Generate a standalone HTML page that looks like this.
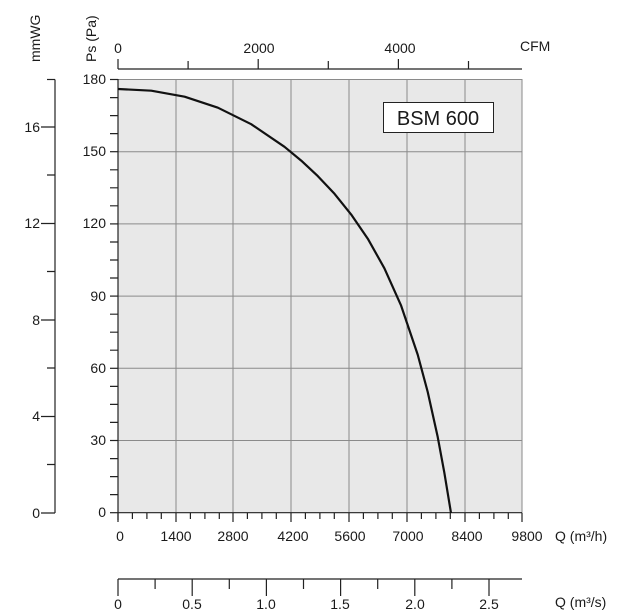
<!DOCTYPE html>
<html><head><meta charset="utf-8"><style>
html,body{margin:0;padding:0;background:#fff;}
svg{display:block;font-family:"Liberation Sans",Arial,sans-serif;}
text{fill:#1a1a1a;font-size:14px;}
</style></head><body>
<svg width="634" height="613" viewBox="0 0 634 613" xmlns="http://www.w3.org/2000/svg">
<rect x="118" y="79" width="404" height="434" fill="#e8e8e8"/>
<g stroke="#8a8a8a" stroke-width="1">
<line x1="176" y1="79" x2="176" y2="513"/><line x1="233" y1="79" x2="233" y2="513"/>
<line x1="291" y1="79" x2="291" y2="513"/><line x1="349" y1="79" x2="349" y2="513"/>
<line x1="407" y1="79" x2="407" y2="513"/><line x1="465" y1="79" x2="465" y2="513"/>
<line x1="522" y1="79" x2="522" y2="513"/>
<line x1="118" y1="151.7" x2="522" y2="151.7"/><line x1="118" y1="223.9" x2="522" y2="223.9"/>
<line x1="118" y1="296.1" x2="522" y2="296.1"/><line x1="118" y1="368.3" x2="522" y2="368.3"/>
<line x1="118" y1="440.5" x2="522" y2="440.5"/><line x1="118" y1="79.5" x2="522" y2="79.5"/>
</g>
<g stroke="#222" stroke-width="1.2" fill="none">
<line x1="118" y1="79" x2="118" y2="520"/>
<line x1="110" y1="79.5" x2="118" y2="79.5"/><line x1="110" y1="151.7" x2="118" y2="151.7"/>
<line x1="110" y1="223.9" x2="118" y2="223.9"/><line x1="110" y1="296.1" x2="118" y2="296.1"/>
<line x1="110" y1="368.3" x2="118" y2="368.3"/><line x1="110" y1="440.5" x2="118" y2="440.5"/>
<line x1="110" y1="512.7" x2="118" y2="512.7"/>
<path d="M110 97.6h8M110 115.6h8M110 133.6h8M110 169.8h8M110 187.8h8M110 205.8h8M110 242h8M110 260h8M110 278h8M110 314.2h8M110 332.2h8M110 350.2h8M110 386.4h8M110 404.4h8M110 422.4h8M110 458.6h8M110 476.6h8M110 494.6h8"/>
<line x1="118" y1="512.7" x2="522" y2="512.7"/>
<path d="M118 513v9M176 513v9M233 513v9M291 513v9M349 513v9M407 513v9M465 513v9M522 513v9"/>
<path d="M132.4 513v6M146.9 513v6M161.3 513v6M190.4 513v6M204.9 513v6M219.3 513v6M247.4 513v6M261.9 513v6M276.3 513v6M305.4 513v6M319.9 513v6M334.3 513v6M363.4 513v6M377.9 513v6M392.3 513v6M421.4 513v6M435.9 513v6M450.3 513v6M479.4 513v6M493.9 513v6M508.3 513v6"/>
<line x1="118" y1="69" x2="522" y2="69"/>
<path d="M118 69v-10M188.1 69v-8M258.2 69v-10M328.3 69v-8M398.4 69v-10M468.5 69v-8"/>
<line x1="118" y1="579" x2="522" y2="579"/>
<path d="M118 579v17M155.1 579v10M192.2 579v17M229.3 579v10M266.4 579v17M303.5 579v10M340.6 579v17M377.7 579v10M414.8 579v17M451.9 579v10M489 579v17"/>
<line x1="55" y1="79.5" x2="55" y2="513"/>
<line x1="47" y1="79.5" x2="55" y2="79.5"/>
<path d="M41 127h14M41 223.5h14M41 320h14M41 416.5h14M41 513h14M47 175h8M47 271.5h8M47 368h8M47 464.5h8"/>
</g>
<polyline fill="none" stroke="#111" stroke-width="2.2" stroke-linejoin="round" points="118,89 151.3,90.7 184.6,96.7 217.9,107.7 251.2,124.2 284.5,146.8 301.2,160.6 317.8,176.1 334.5,193.8 351.1,214.4 367.8,238.7 384.4,268.3 401.1,305.6 417.7,354.6 427.7,391.9 437.7,436.9 444.3,472.4 451,513"/>
<rect x="383.5" y="102.5" width="110" height="30" fill="#fff" stroke="#222" stroke-width="1"/>
<text x="438" y="125" text-anchor="middle" style="font-size:20px">BSM 600</text>
<g text-anchor="end">
<text x="106" y="84">180</text><text x="106" y="156">150</text><text x="106" y="228">120</text>
<text x="106" y="301">90</text><text x="106" y="373">60</text><text x="106" y="445">30</text><text x="106" y="517">0</text>
<text x="40" y="132">16</text><text x="40" y="228">12</text><text x="40" y="325">8</text><text x="40" y="421">4</text><text x="40" y="518">0</text>
</g>
<g text-anchor="middle">
<text x="120" y="541">0</text><text x="176" y="541">1400</text><text x="233" y="541">2800</text><text x="293" y="541">4200</text>
<text x="350" y="541">5600</text><text x="408" y="541">7000</text><text x="467" y="541">8400</text><text x="527" y="541">9800</text>
<text x="118" y="53">0</text><text x="259" y="53">2000</text><text x="400" y="53">4000</text>
<text x="118" y="609">0</text><text x="192" y="609">0.5</text><text x="266" y="609">1.0</text><text x="340" y="609">1.5</text><text x="415" y="609">2.0</text><text x="489" y="609">2.5</text>
</g>
<text x="555" y="541">Q (m³/h)</text>
<text x="555" y="607">Q (m³/s)</text>
<text x="520" y="51">CFM</text>
<text transform="translate(96,62) rotate(-90)">Ps (Pa)</text>
<text transform="translate(40,62) rotate(-90)">mmWG</text>
</svg>
</body></html>
